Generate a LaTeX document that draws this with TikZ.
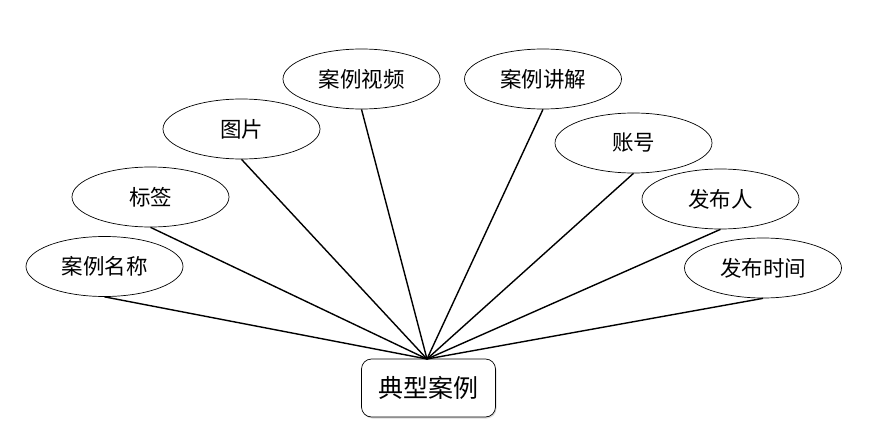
\documentclass[tikz,border=0pt]{standalone}
\usepackage{fontspec}
\newfontfamily\cjk{Noto Sans CJK SC}
\usetikzlibrary{shapes.geometric,shadows}
\tikzset{
  attr/.style={draw=black, line width=0.7pt, ellipse, minimum width=157pt, minimum height=60pt, inner sep=0pt, font=\cjk\fontsize{21.5}{25}\selectfont, fill=white},
  ent/.style={draw=black, line width=0.7pt, rounded corners=10pt, minimum width=134pt, minimum height=58pt, inner sep=0pt, font=\cjk\fontsize{25}{29}\selectfont, fill=white, drop shadow={shadow xshift=1pt, shadow yshift=-1.5pt, opacity=0.3}},
  link/.style={line width=1.4pt, black}
}
\begin{document}
\begin{tikzpicture}[x=1pt,y=-1pt]
\useasboundingbox (0,0) rectangle (884,428);
\node[ent] (e) at (428.5,388) {典型案例};
\coordinate (c) at (427,359);
\node[attr] (a1) at (104.5,266.5) {案例名称};
\node[attr] (a2) at (150.5,197) {标签};
\node[attr] (a3) at (241.5,129) {图片};
\node[attr] (a4) at (361.5,79) {案例视频};
\node[attr] (a5) at (543,79) {案例讲解};
\node[attr] (a6) at (633.5,143) {账号};
\node[attr] (a7) at (720.5,199) {发布人};
\node[attr] (a8) at (763,268) {发布时间};
\foreach \n in {a1,a2,a3,a4,a5,a6,a7,a8}{
  \draw[link] (c) -- (\n.south);
}
\end{tikzpicture}
\end{document}
